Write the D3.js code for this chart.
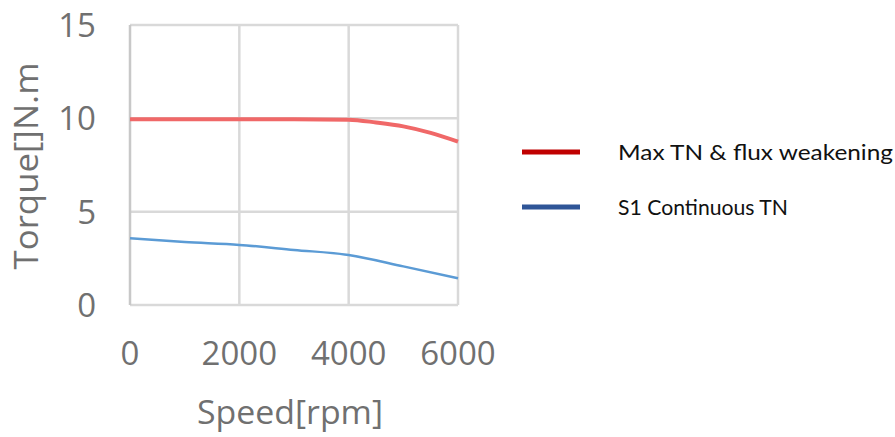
<!DOCTYPE html>
<html>
<head>
<meta charset="utf-8">
<script src="https://cdn.jsdelivr.net/npm/d3@7"></script>
<style>
html,body{margin:0;padding:0;background:#fff;}
svg{display:block;}
</style>
</head>
<body>
<svg id="chart" width="895" height="437"></svg>
<script>
const speedMax = [0, 1000, 2000, 3000, 4000, 4500, 5000, 5500, 6000];
const torqueMax = [9.95, 9.95, 9.95, 9.95, 9.93, 9.78, 9.57, 9.22, 8.75];
const speedS1 = [0, 1000, 2000, 3000, 4000, 5000, 6000];
const torqueS1 = [3.57, 3.37, 3.22, 2.95, 2.68, 2.07, 1.43];
const xTicks = [0, 2000, 4000, 6000];
const yTicks = [0, 5, 10, 15];
const seriesNames = ["Max TN & flux weakening", "S1 Continuous TN"];
const xTitle = "Speed[rpm]";
const yTitle = "Torque[]N.m";

const svg = d3.select("#chart");
const x = d3.scaleLinear().domain([0, 6000]).range([130, 458]);
const y = d3.scaleLinear().domain([0, 15]).range([305, 25]);

const grid = svg.append("g");
grid.selectAll("line.h").data(yTicks).join("line")
  .attr("x1", x(0)).attr("x2", x(6000))
  .attr("y1", d => y(d)).attr("y2", d => y(d))
  .attr("stroke", "#d9d9d9").attr("stroke-width", 2.5);
grid.selectAll("line.v").data(xTicks).join("line")
  .attr("y1", y(0)).attr("y2", y(15))
  .attr("x1", d => x(d)).attr("x2", d => x(d))
  .attr("stroke", d => d === 0 ? "#c8c8c8" : "#d9d9d9").attr("stroke-width", 2.5);

const tickFont = "'Open Sans', sans-serif";
const tickColor = "#707070";
svg.append("g").selectAll("text").data(yTicks).join("text")
  .attr("x", 96).attr("y", d => y(d) + 12)
  .attr("text-anchor", "end")
  .attr("font-family", tickFont).attr("font-size", 33)
  .attr("fill", tickColor).text(d => d);
svg.append("g").selectAll("text").data(xTicks).join("text")
  .attr("x", d => x(d)).attr("y", 365)
  .attr("text-anchor", "middle")
  .attr("font-family", tickFont).attr("font-size", 33)
  .attr("fill", tickColor).text(d => d);

svg.append("text").attr("x", 290).attr("y", 424)
  .attr("text-anchor", "middle")
  .attr("font-family", tickFont).attr("font-size", 32)
  .attr("textLength", 186).attr("lengthAdjust", "spacingAndGlyphs")
  .attr("fill", tickColor).text(xTitle);
svg.append("text").attr("transform", "translate(38,166) rotate(-90)")
  .attr("text-anchor", "middle")
  .attr("font-family", tickFont).attr("font-size", 32)
  .attr("textLength", 207).attr("lengthAdjust", "spacingAndGlyphs")
  .attr("fill", tickColor).text(yTitle);

const line = d3.line().x(d => x(d[0])).y(d => y(d[1])).curve(d3.curveMonotoneX);
svg.append("path").datum(speedMax.map((s, i) => [s, torqueMax[i]]))
  .attr("d", line).attr("fill", "none")
  .attr("stroke", "#f06868").attr("stroke-width", 4);
svg.append("path").datum(speedS1.map((s, i) => [s, torqueS1[i]]))
  .attr("d", line).attr("fill", "none")
  .attr("stroke", "#5b9bd5").attr("stroke-width", 2.5);

const legColors = ["#c00000", "#2f5597"];
const leg = svg.append("g").selectAll("g").data(seriesNames).join("g")
  .attr("transform", (d, i) => `translate(0,${152 + i * 55})`);
leg.append("line").attr("x1", 522).attr("x2", 580).attr("y1", 0).attr("y2", 0)
  .attr("stroke", (d, i) => legColors[i]).attr("stroke-width", 5);
leg.append("text").attr("x", 618).attr("y", 8)
  .attr("font-family", "Lato, sans-serif").attr("font-size", 22)
  .attr("fill", "#111")
  .attr("textLength", (d, i) => i === 0 ? 275 : 170)
  .attr("lengthAdjust", "spacingAndGlyphs")
  .text(d => d);
</script>
</body>
</html>
